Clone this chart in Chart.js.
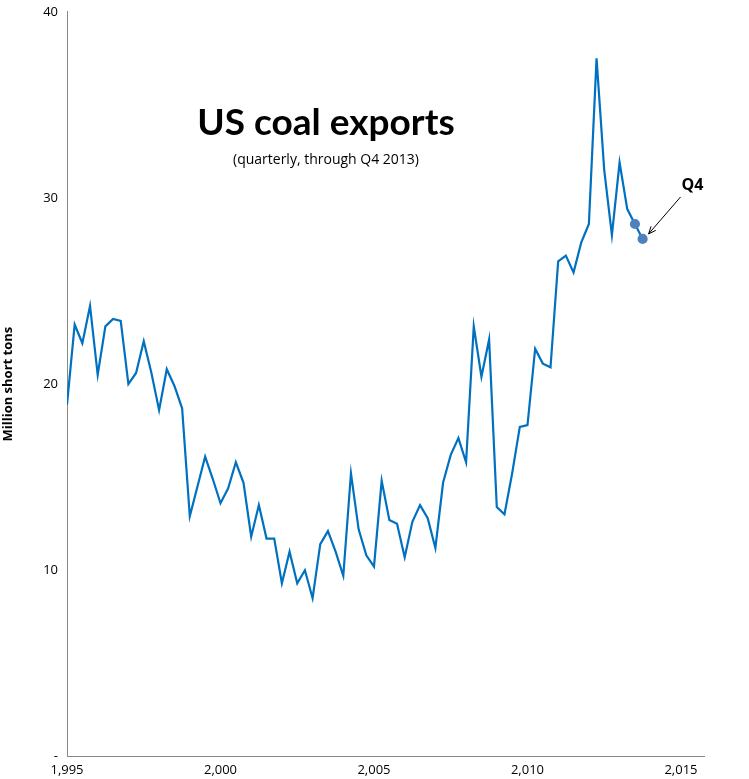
<!DOCTYPE html>
<html><head><meta charset="utf-8">
<script src="https://cdn.jsdelivr.net/npm/chart.js@4/dist/chart.umd.min.js"></script>
<style>
html,body{margin:0;padding:0;background:#fff;}
#wrap{position:relative;width:749px;height:779px;}
#title{position:absolute;left:0;width:652px;top:98px;text-align:center;font:bold 37px Lato,"Open Sans",sans-serif;color:#000;}
#sub{position:absolute;left:0;width:652px;top:149px;text-align:center;font:14px "Open Sans",sans-serif;color:#000;}
</style></head><body>
<div id="wrap"><canvas id="c" width="749" height="779"></canvas>
<div id="title">US coal exports</div>
<div id="sub">(quarterly, through Q4 2013)</div></div>
<script>
const startYear = 1995;
const exportsMST = [18.9,23.2,22.2,24.2, 20.5,23.1,23.5,23.4, 20.0,20.6,22.3,20.6, 18.6,20.8,19.9,18.7,
 12.9,14.5,16.1,14.9, 13.6,14.4,15.8,14.7, 11.8,13.5,11.7,11.7, 9.3,11.0,9.3,10.0, 8.5,11.4,12.1,11.0,
 9.7,15.2,12.2,10.8, 10.2,14.8,12.7,12.5, 10.7,12.6,13.5,12.8, 11.2,14.7,16.2,17.1, 15.8,23.1,20.4,22.4,
 13.4,13.0,15.2,17.7, 17.8,21.9,21.1,20.9, 26.6,26.9,26.0,27.6, 28.6,37.5,31.5,28.0, 31.9,29.4,28.6,27.8];
const xTicks = [1995,2000,2005,2010,2015];
const yTicks = [0,10,20,30,40];
const pts = exportsMST.map((v,i)=>({x:startYear+i/4, y:v}));
const n = pts.length;
const annot = {
  id:'annot',
  afterDatasetsDraw(chart){
    const {ctx,scales:{x,y}} = chart;
    const p = pts[n-1];
    const px = x.getPixelForValue(p.x), py = y.getPixelForValue(p.y);
    const sx = px+38, sy = py-42, ex = px+6, ey = py-5;
    ctx.save();
    ctx.strokeStyle='#000'; ctx.lineWidth=1;
    ctx.beginPath(); ctx.moveTo(sx,sy); ctx.lineTo(ex,ey); ctx.stroke();
    const a = Math.atan2(ey-sy,ex-sx);
    ctx.beginPath();
    ctx.moveTo(ex-8*Math.cos(a-0.4), ey-8*Math.sin(a-0.4));
    ctx.lineTo(ex,ey);
    ctx.lineTo(ex-8*Math.cos(a+0.4), ey-8*Math.sin(a+0.4));
    ctx.stroke();
    ctx.font='bold 16px "Open Sans",sans-serif'; ctx.fillStyle='#000';
    ctx.textAlign='left'; ctx.textBaseline='middle';
    ctx.fillText('Q4', sx+1, sy-11);
    ctx.restore();
  }
};
new Chart(document.getElementById('c'),{
  type:'scatter',
  data:{datasets:[{data:pts, showLine:true, borderColor:'#0070C0', borderWidth:2.2,
    pointRadius:pts.map((p,i)=>i>=n-2?4:0), pointBackgroundColor:'#4F81BD', pointBorderColor:'#4F81BD',
    tension:0}]},
  options:{responsive:false, animation:false, events:[],
    layout:{padding:{top:11,right:45,bottom:0,left:0}},
    plugins:{legend:{display:false},tooltip:{enabled:false}},
    scales:{
      x:{type:'linear',min:1995,max:2015.75,
        afterBuildTicks(s){s.ticks=xTicks.map(v=>({value:v}));},
        grid:{display:false,drawTicks:true,tickLength:5,tickColor:'#888'},
        border:{color:'#888'},
        ticks:{color:'#000',font:{size:13,family:'"Open Sans",sans-serif'},maxRotation:0,padding:1}},
      y:{min:0,max:40,
        afterBuildTicks(s){s.ticks=yTicks.map(v=>({value:v}));},
        afterFit(s){s.width=67;},
        grid:{display:false,tickLength:5,tickColor:'#888'},
        border:{color:'#888'},
        title:{display:true,text:'Million short tons',color:'#000',font:{size:13,weight:'bold',family:'"Open Sans",sans-serif'},padding:0},
        ticks:{color:'#000',font:{size:13,family:'"Open Sans",sans-serif'},padding:4,callback:v=>v===0?'-':v}}
    }},
  plugins:[annot]
});
</script></body></html>
